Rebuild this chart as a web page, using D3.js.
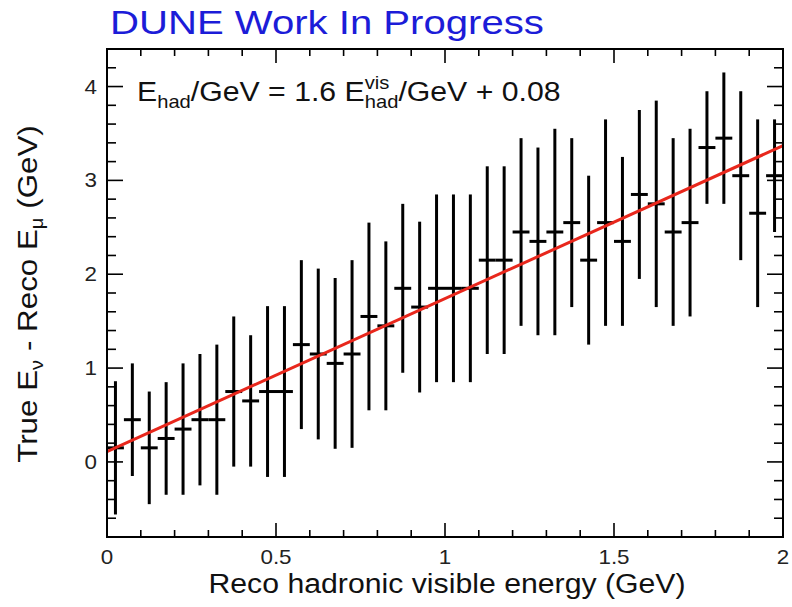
<!DOCTYPE html>
<html><head><meta charset="utf-8">
<script src="https://cdn.jsdelivr.net/npm/d3@7"></script>
<style>body{margin:0;background:#fff;} svg{display:block;} text{font-family:"Liberation Sans",Arial,Helvetica,sans-serif;}</style>
</head><body><svg id="c" width="792" height="607"></svg>
<script>
// Bin edges: 40 bins of width 0.05 from 0 to 2 GeV
const binLow = d3.range(40).map(i => i * 0.05);
const binWidth = 0.05;
const values = [0.15,0.45,0.15,0.25,0.35,0.45,0.45,0.75,0.65,0.75,0.75,1.25,1.15,1.05,1.15,1.55,1.45,1.85,1.65,1.85,1.85,1.85,2.15,2.15,2.45,2.35,2.45,2.55,2.15,2.55,2.35,2.85,2.75,2.45,2.55,3.35,3.45,3.05,2.65,3.05];
const errors = [0.71,0.6,0.6,0.6,0.7,0.7,0.8,0.8,0.7,0.91,0.91,0.9,0.91,0.91,1.0,1.0,0.9,0.9,0.91,1.0,1.0,1.0,1.0,1.0,1.0,1.0,1.1,0.9,0.9,1.1,0.9,0.9,1.1,1.0,1.0,0.6,0.7,0.9,1.0,0.6];
const fitX = [0, 2];
const fitY = [0.11, 3.37];
const xMajor = [0, 0.5, 1, 1.5, 2];
const xMajorLabels = ["0", "0.5", "1", "1.5", "2"];
const yMajor = [0, 1, 2, 3, 4];
const yMajorLabels = ["0", "1", "2", "3", "4"];

const svg = d3.select("#c");
const L = 107, R = 783, T = 49, B = 537;
const x = d3.scaleLinear().domain([0, 2]).range([L, R]);
const y = d3.scaleLinear().domain([-0.8, 4.4]).range([B, T]);

// ticks
const xMinor = d3.range(0, 2.0001, 0.1);
const yMinor = d3.range(-0.8, 4.4001, 0.2);
const tk = svg.append("g").attr("stroke", "#000").attr("stroke-width", 1.6);
xMinor.forEach(v => {
  const major = Math.abs(v * 2 - Math.round(v * 2)) < 1e-6;
  const len = major ? 14 : 7;
  tk.append("line").attr("x1", x(v)).attr("x2", x(v)).attr("y1", B).attr("y2", B - len);
  tk.append("line").attr("x1", x(v)).attr("x2", x(v)).attr("y1", T).attr("y2", T + len);
});
yMinor.forEach(v => {
  const major = Math.abs(v - Math.round(v)) < 1e-6;
  const len = major ? 16 : 9;
  tk.append("line").attr("y1", y(v)).attr("y2", y(v)).attr("x1", L).attr("x2", L + len);
  tk.append("line").attr("y1", y(v)).attr("y2", y(v)).attr("x1", R).attr("x2", R - len);
});

// error bars
const g = svg.append("g").attr("stroke", "#000").attr("stroke-width", 3);
binLow.forEach((lo, i) => {
  const c = lo + binWidth / 2;
  g.append("line").attr("x1", x(c)).attr("x2", x(c)).attr("y1", y(values[i] - errors[i])).attr("y2", y(values[i] + errors[i]));
  g.append("line").attr("x1", x(lo)).attr("x2", x(lo + binWidth)).attr("y1", y(values[i])).attr("y2", y(values[i]));
});

// fit line
svg.append("path")
  .attr("d", d3.line().x(d => x(d[0])).y(d => y(d[1]))(fitX.map((v, i) => [v, fitY[i]])))
  .attr("stroke", "#e8271c").attr("stroke-width", 3).attr("fill", "none");

// frame
svg.append("rect").attr("x", L).attr("y", T).attr("width", R - L).attr("height", B - T)
  .attr("fill", "none").attr("stroke", "#000").attr("stroke-width", 2);

// horizontally stretched text helper (reference text is slightly wide)
function stretched(px, py, rot, sx) {
  return svg.append("g").attr("transform", `translate(${px},${py})` + (rot ? ` rotate(${rot})` : "") + ` scale(${sx || 1.12},1)`);
}

// tick labels
xMajor.forEach((v, i) => {
  stretched(x(v), 564).append("text").attr("text-anchor", "middle")
    .attr("font-size", 20).attr("fill", "#222").text(xMajorLabels[i]);
});
yMajor.forEach((v, i) => {
  stretched(97, y(v) + 7).append("text").attr("text-anchor", "end")
    .attr("font-size", 20).attr("fill", "#222").text(yMajorLabels[i]);
});

// axis titles
stretched(447, 593).append("text").attr("text-anchor", "middle")
  .attr("font-size", 27).attr("fill", "#111").text("Reco hadronic visible energy (GeV)");

const yt = stretched(37, 294, -90).append("text")
  .attr("text-anchor", "middle").attr("font-size", 28).attr("fill", "#111");
yt.append("tspan").text("True E");
yt.append("tspan").attr("font-size", 18).attr("dy", 6).text("ν");
yt.append("tspan").attr("dy", -6).text(" - Reco E");
yt.append("tspan").attr("font-size", 18).attr("dy", 6).text("μ");
yt.append("tspan").attr("dy", -6).text(" (GeV)");

// title
stretched(110, 34, 0, 1.18).append("text").attr("font-size", 34).attr("fill", "#1c1cd8")
  .text("DUNE Work In Progress");

// annotation
const ann = stretched(137, 101).attr("fill", "#111");
let cx = 0;
function put(txt, size, dy) {
  const t = ann.append("text").attr("x", cx).attr("y", dy).attr("font-size", size).text(txt);
  return t.node().getComputedTextLength();
}
cx += put("E", 27, 0);
cx += put("had", 18, 7);
cx += put("/GeV = 1.6 E", 27, 0);
const w1 = put("vis", 18, -12);
const w2 = put("had", 18, 7);
cx += Math.max(w1, w2);
cx += put("/GeV + 0.08", 27, 0);
</script></body></html>
